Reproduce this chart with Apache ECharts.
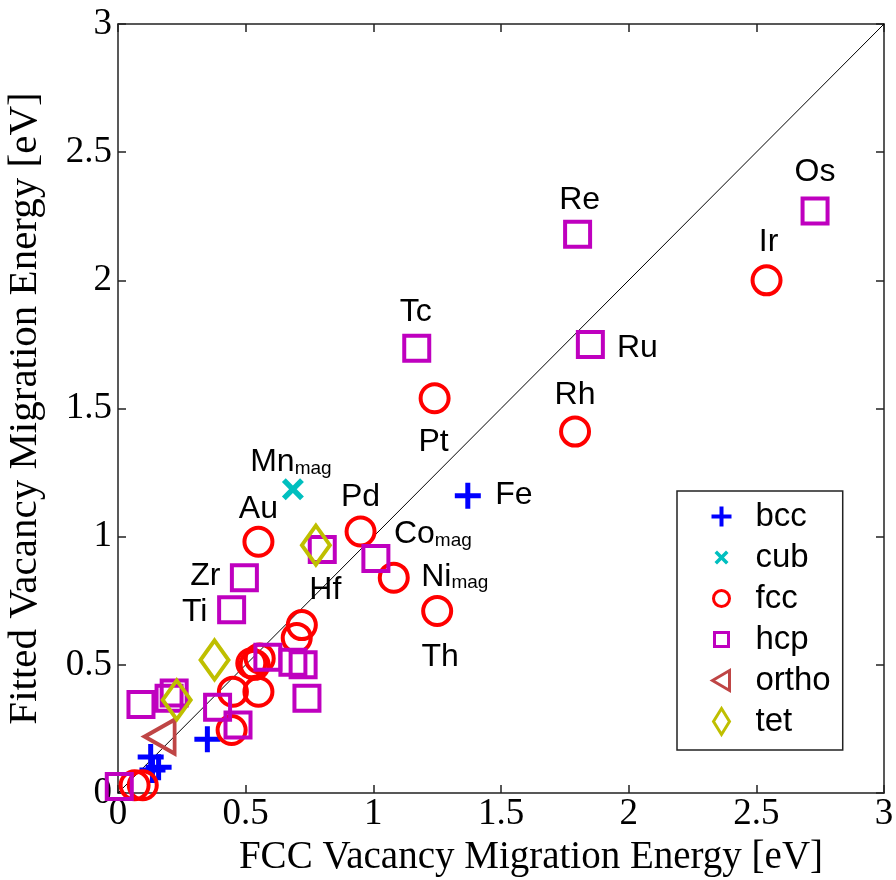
<!DOCTYPE html>
<html>
<head>
<meta charset="utf-8">
<script src="https://cdn.jsdelivr.net/npm/echarts@6/dist/echarts.min.js"></script>
<style>
  html, body { margin: 0; padding: 0; background: #fff; }
  #chart { width: 896px; height: 880px; }
</style>
</head>
<body>
<div id="chart"></div>
<script>
// Vacancy migration energies (eV): FCC reference value vs. fitted value, grouped by crystal structure
const structures = ['bcc', 'cub', 'fcc', 'hcp', 'ortho', 'tet'];

const bccX   = [1.37, 0.35, 0.128, 0.159, 0.135];
const bccY   = [1.16, 0.21, 0.14, 0.10, 0.09];
const bccNames = ['Fe', '', '', '', ''];

const cubX   = [0.685];
const cubY   = [1.185];
const cubNames = ['Mn_mag'];

const fccX   = [2.54, 1.79, 1.24, 0.95, 1.08, 1.25, 0.55, 0.72, 0.70, 0.522, 0.555, 0.535, 0.55, 0.45, 0.445, 0.065, 0.097];
const fccY   = [2.00, 1.41, 1.54, 1.02, 0.84, 0.71, 0.98, 0.655, 0.605, 0.506, 0.525, 0.50, 0.395, 0.395, 0.246, 0.03, 0.03];
const fccNames = ['Ir', 'Rh', 'Pt', 'Pd', 'Ni_mag', 'Th', 'Au'];

const hcpX   = [2.73, 1.80, 1.85, 1.17, 1.01, 0.80, 0.495, 0.445, 0.587, 0.685, 0.725, 0.74, 0.39, 0.47, 0.09, 0.20, 0.22, 0.005];
const hcpY   = [2.27, 2.18, 1.75, 1.735, 0.915, 0.95, 0.84, 0.715, 0.53, 0.51, 0.50, 0.37, 0.335, 0.265, 0.345, 0.37, 0.39, 0.025];
const hcpNames = ['Os', 'Re', 'Ru', 'Tc', 'Co_mag', 'Hf', 'Zr', 'Ti'];

const orthoX = [0.163];
const orthoY = [0.22];

const tetX   = [0.775, 0.378, 0.23];
const tetY   = [0.967, 0.519, 0.363];

const axisTicks = [0, 0.5, 1, 1.5, 2, 2.5, 3];

// Where each element label sits relative to its marker (px)
const labelOffsets = {
  Os: [0, -41], Ir: [2, -40], Re: [2, -36], Ru: [47, 2], Rh: [0, -38],
  Tc: [-1, -38], Pt: [-1, 42], Fe: [46, -2], Mn_mag: [-2, -29], Pd: [0, -36],
  Co_mag: [57, -26], Ni_mag: [61, -3], Th: [3, 44], Au: [0, -35], Hf: [3, 39],
  Zr: [-39, -4], Ti: [-37, 0]
};

const SANS = '"Liberation Sans", Arial, sans-serif';
const SERIF = '"Liberation Serif", "Times New Roman", serif';

const colors = {
  bcc: '#0000ff', cub: '#00bfbf', fcc: '#ff0000',
  hcp: '#bf00bf', ortho: '#bf4545', tet: '#bfbf00'
};

function points(xs, ys, names) {
  return xs.map((x, i) => {
    const name = (names && names[i]) || '';
    const item = { value: [x, ys[i]], name: name };
    if (name) {
      item.label = { show: true, offset: labelOffsets[name] };
    }
    return item;
  });
}

const labelStyle = {
  show: false,
  position: 'inside',
  color: '#000',
  opacity: 1,
  fontFamily: SANS,
  fontSize: 32,
  formatter: p => p.name.endsWith('_mag')
    ? '{a|' + p.name.replace('_mag', '') + '}{s|mag}'
    : '{a|' + p.name + '}',
  rich: {
    a: { fontFamily: SANS, fontSize: 32, color: '#000', verticalAlign: 'bottom', lineHeight: 36 },
    s: { fontFamily: SANS, fontSize: 19, color: '#000', verticalAlign: 'bottom', lineHeight: 29 }
  }
};

const plusPath  = 'path://M10.5,0H15.5V10.5H26V15.5H15.5V26H10.5V15.5H0V10.5H10.5Z';
const crossPath = 'path://M0,3.5L3.5,0L10,6.5L16.5,0L20,3.5L13.5,10L20,16.5L16.5,20L10,13.5L3.5,20L0,16.5L6.5,10Z';
const triPath   = 'path://M0,17L30,0L30,34Z';

// Legend icons, padded inside a 24x30 box so each keeps its own size
const iconPlus  = 'path://M0,0M24,30M10,5H14V13H22V17H14V25H10V17H2V13H10Z';
const iconCross = 'path://M0,0M24,30M5,10.5L7.5,8L12,12.5L16.5,8L19,10.5L14.5,15L19,19.5L16.5,22L12,17.5L7.5,22L5,19.5L9.5,15Z';
const iconCircle = 'path://M0,0M24,30M12,7A8,8 0 1,1 12,23A8,8 0 1,1 12,7Z';
const iconSquare = 'path://M0,0M24,30M5,8H19V22H5Z';
const iconTri   = 'path://M0,0M24,30M3,15L20,5L20,25Z';
const iconDiamond = 'path://M0,0M24,30M12,2L20,15L12,28L4,15Z';

function scatter(name, data, symbol, size, filled, borderWidth) {
  return {
    name: name,
    type: 'scatter',
    data: data,
    symbol: symbol,
    symbolSize: size,
    itemStyle: filled
      ? { color: colors[name], borderWidth: 0, opacity: 1 }
      : { color: 'transparent', borderColor: colors[name], borderWidth: borderWidth, opacity: 1 },
    label: labelStyle,
    emphasis: { disabled: true }
  };
}

function axisCommon(extra) {
  return Object.assign({
    type: 'value', min: 0, max: 3, interval: 0.5,
    axisLine: { show: true, onZero: false, lineStyle: { color: '#222', width: 1.5 } },
    axisTick: { show: true, inside: true, length: 8, lineStyle: { color: '#222', width: 1.5 } },
    splitLine: { show: false }
  }, extra);
}

const tickLabel = {
  fontFamily: SERIF, fontSize: 37, color: '#000',
  formatter: v => axisTicks.includes(v) ? String(v) : ''
};

const chart = echarts.init(document.getElementById('chart'), null, { renderer: 'canvas' });

chart.setOption({
  backgroundColor: '#fff',
  animation: false,
  grid: { left: 118, right: 12, top: 24, bottom: 87, containLabel: false, outerBoundsMode: 'none' },
  xAxis: [
    axisCommon({
      position: 'bottom',
      axisLabel: Object.assign({ margin: 3 }, tickLabel),
      name: 'FCC Vacancy Migration Energy [eV]',
      nameLocation: 'middle', nameGap: 44,
      nameTextStyle: { fontFamily: SERIF, fontSize: 39, color: '#000', padding: [0, 0, 0, 60] }
    }),
    axisCommon({ position: 'top', axisLabel: { show: false } })
  ],
  yAxis: [
    axisCommon({
      position: 'left',
      axisLabel: Object.assign({ margin: 6 }, tickLabel),
      name: 'Fitted Vacancy Migration Energy [eV]',
      nameLocation: 'middle', nameGap: 72,
      nameTextStyle: { fontFamily: SERIF, fontSize: 41, color: '#000' }
    }),
    axisCommon({ position: 'right', axisLabel: { show: false } })
  ],
  legend: {
    orient: 'vertical',
    left: 677, top: 491,
    padding: [9, 12, 12, 31],
    itemWidth: 24, itemHeight: 30, itemGap: 8,
    borderColor: '#222', borderWidth: 1.5,
    backgroundColor: '#fff',
    selectedMode: false,
    textStyle: { fontFamily: SANS, fontSize: 33, lineHeight: 30, color: '#000', padding: [0, 0, 0, 17] },
    itemStyle: { borderWidth: 3, opacity: 1 },
    data: [
      { name: 'bcc', icon: iconPlus, itemStyle: { borderWidth: 0 } },
      { name: 'cub', icon: iconCross, itemStyle: { borderWidth: 0 } },
      { name: 'fcc', icon: iconCircle },
      { name: 'hcp', icon: iconSquare },
      { name: 'ortho', icon: iconTri },
      { name: 'tet', icon: iconDiamond }
    ]
  },
  series: [
    {
      name: 'y = x',
      type: 'line',
      data: [[0, 0], [3, 3]],
      showSymbol: false,
      symbol: 'none',
      silent: true,
      lineStyle: { color: '#000', width: 1 },
      z: 1
    },
    scatter('bcc', points(bccX, bccY, bccNames), plusPath, 26, true),
    scatter('cub', points(cubX, cubY, cubNames), crossPath, 22, true),
    scatter('fcc', points(fccX, fccY, fccNames), 'circle', 28, false, 4),
    scatter('hcp', points(hcpX, hcpY, hcpNames), 'rect', 25, false, 4),
    scatter('ortho', points(orthoX, orthoY), triPath, [30, 34], false, 4),
    scatter('tet', points(tetX, tetY), 'diamond', [28, 39], false, 4)
  ]
});
</script>
</body>
</html>
